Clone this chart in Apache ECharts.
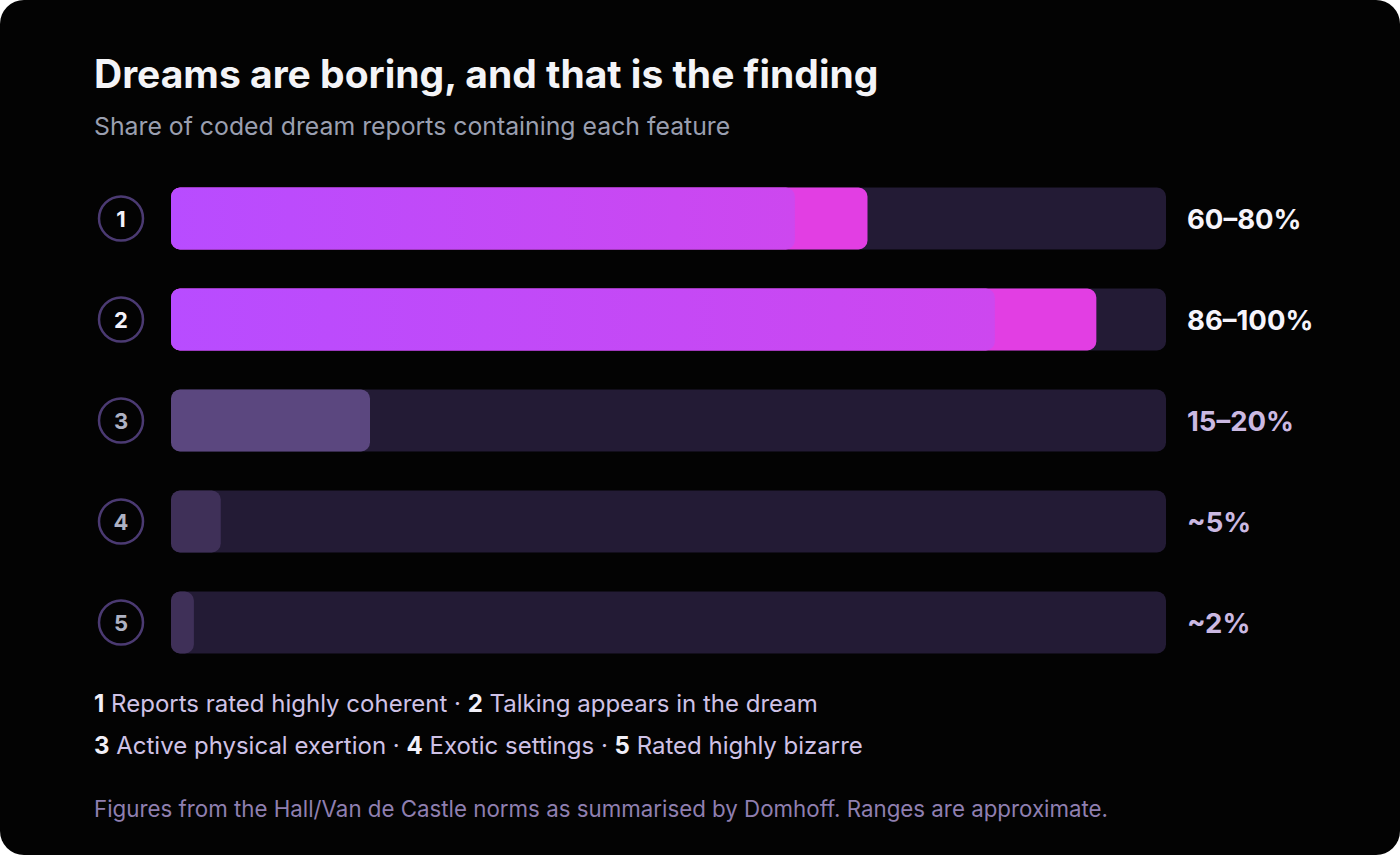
<!DOCTYPE html>
<html>
<head>
<meta charset="utf-8">
<script src="https://cdn.jsdelivr.net/npm/echarts@6/dist/echarts.min.js"></script>
<style>
  html, body { margin: 0; padding: 0; background: #ffffff; }
  #card {
    position: absolute; left: 0; top: 0;
    width: 1400px; height: 855px;
    background: #030303; border-radius: 24px; overflow: hidden;
  }
  #chart { width: 1400px; height: 855px; }
</style>
</head>
<body>
<div id="card"><div id="chart"></div></div>
<script>
// Data
const features = ["1", "2", "3", "4", "5"];
const shares = [70, 93, 20, 5, 2.3];               // bar end, % of reports
const coreShares = [62.7, 82.8, null, null, null]; // inner segment on the two big bars
const rangeLabels = ["60–80%", "86–100%", "15–20%", "~5%", "~2%"];
const legendRow1 = [["1", "Reports rated highly coherent"], ["2", "Talking appears in the dream"]];
const legendRow2 = [["3", "Active physical exertion"], ["4", "Exotic settings"], ["5", "Rated highly bizarre"]];

const FONT = "Inter, 'Noto Sans', sans-serif";
const isMajor = (i) => i < 2;

const chart = echarts.init(document.getElementById("chart"), null, { renderer: "svg" });

function legendText(row) {
    return row.map((r) => "{b|" + r[0] + "} " + r[1]).join(" · ");
}

const legendRich = {
    b: { fontFamily: FONT, fontWeight: 700, fontSize: 24, color: "#f2f0f8" },
};

const barGradient = new echarts.graphic.LinearGradient(0, 0, 1, 0, [
    { offset: 0, color: "#b84cff" },
    { offset: 1, color: "#cd47ef" },
]);

chart.setOption({
    backgroundColor: "transparent",
    animation: false,
    title: [
        {
            text: "Dreams are boring, and that is the finding",
            left: 94, top: 54, padding: 0,
            textStyle: { fontFamily: FONT, fontWeight: 700, fontSize: 39, color: "#f4f4f7" },
        },
        {
            text: "Share of coded dream reports containing each feature",
            left: 94, top: 113, padding: 0,
            textStyle: { fontFamily: FONT, fontWeight: 400, fontSize: 24.8, color: "#9a9fb0" },
        },
        {
            text: legendText(legendRow1),
            left: 94, top: 691, padding: 0,
            textStyle: { fontFamily: FONT, fontWeight: 400, fontSize: 24, color: "#cfc2e6", rich: legendRich },
        },
        {
            text: legendText(legendRow2),
            left: 94, top: 733, padding: 0,
            textStyle: { fontFamily: FONT, fontWeight: 400, fontSize: 24, color: "#cfc2e6", rich: legendRich },
        },
        {
            text: "Figures from the Hall/Van de Castle norms as summarised by Domhoff. Ranges are approximate.",
            left: 94, top: 797, padding: 0,
            textStyle: { fontFamily: FONT, fontWeight: 400, fontSize: 22.3, color: "#8f7fb0" },
        },
    ],
    grid: { left: 171, width: 995, top: 168, height: 505 },
    xAxis: { type: "value", min: 0, max: 100, show: false },
    yAxis: {
        type: "category",
        data: features,
        inverse: true,
        axisLine: { show: false },
        axisTick: { show: false },
        splitLine: { show: false },
        axisLabel: {
            margin: 28,
            formatter: (v, i) => (isMajor(i) ? "{hi|" + v + "}" : "{lo|" + v + "}"),
            rich: {
                hi: {
                    fontFamily: FONT, fontWeight: 700, fontSize: 22, color: "#f4f2fa",
                    width: 44, height: 44, align: "center",
                    borderColor: "#4b3a72", borderWidth: 2.5, borderRadius: 24,
                },
                lo: {
                    fontFamily: FONT, fontWeight: 700, fontSize: 22, color: "#aeb2c3",
                    width: 44, height: 44, align: "center",
                    borderColor: "#4b3a72", borderWidth: 2.5, borderRadius: 24,
                },
            },
        },
    },
    series: [
        {
            name: "track",
            type: "bar",
            barWidth: 62,
            barGap: "-100%",
            silent: true,
            data: features.map((f, i) => ({
                value: 100,
                label: { color: isMajor(i) ? "#f6f4fb" : "#cbb9e2" },
            })),
            itemStyle: { color: "#231b35", borderRadius: 9 },
            label: {
                show: true,
                position: "right",
                distance: 21,
                fontFamily: FONT,
                fontWeight: 700,
                fontSize: 27.5,
                formatter: (p) => rangeLabels[p.dataIndex],
            },
        },
        {
            name: "share",
            type: "bar",
            barWidth: 62,
            barGap: "-100%",
            data: shares.map((v, i) => ({
                value: v,
                itemStyle: {
                    color: isMajor(i) ? "#e23ee3" : i === 2 ? "#5b477f" : "#3f3058",
                },
            })),
            itemStyle: { borderRadius: 9 },
        },
        {
            name: "core",
            type: "bar",
            barWidth: 62,
            barGap: "-100%",
            data: coreShares,
            itemStyle: { color: barGradient, borderRadius: 9 },
        },
    ],
});
</script>
</body>
</html>
